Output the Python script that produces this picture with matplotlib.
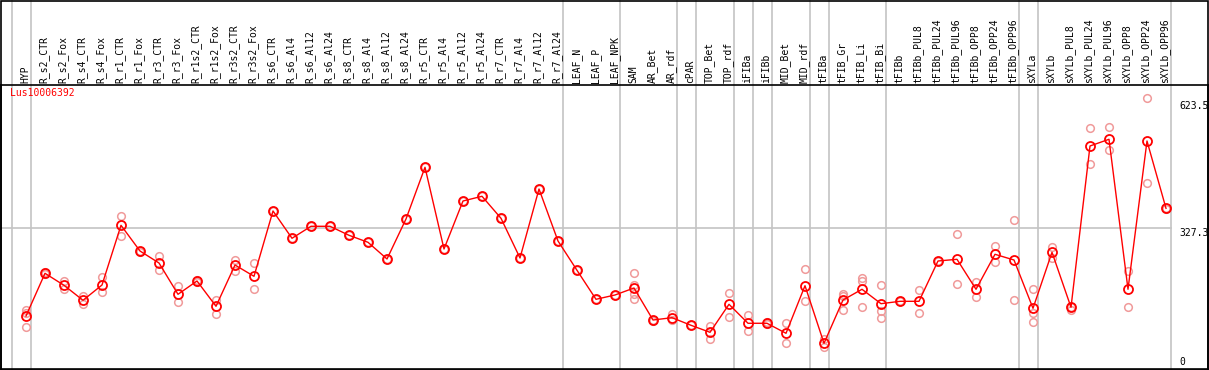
import matplotlib
matplotlib.use('Agg')
import matplotlib.pyplot as plt
from matplotlib.patches import Rectangle

gene = 'Lus10006392'

labels = ['HYP', 'R_s2_CTR', 'R_s2_Fox', 'R_s4_CTR', 'R_s4_Fox', 'R_r1_CTR', 'R_r1_Fox',
          'R_r3_CTR', 'R_r3_Fox', 'R_r1s2_CTR', 'R_r1s2_Fox', 'R_r3s2_CTR', 'R_r3s2_Fox',
          'R_s6_CTR', 'R_s6_Al4', 'R_s6_Al12', 'R_s6_Al24', 'R_s8_CTR', 'R_s8_Al4',
          'R_s8_Al12', 'R_s8_Al24', 'R_r5_CTR', 'R_r5_Al4', 'R_r5_Al12', 'R_r5_Al24',
          'R_r7_CTR', 'R_r7_Al4', 'R_r7_Al12', 'R_r7_Al24', 'LEAF_N', 'LEAF_P', 'LEAF_NPK',
          'SAM', 'AR_Bet', 'AR_rdf', 'cPAR', 'TOP_Bet', 'TOP_rdf', 'iFIBa', 'iFIBb',
          'MID_Bet', 'MID_rdf', 'tFIBa', 'tFIB_Gr', 'tFIB_Li', 'tFIB_Bi', 'tFIBb',
          'tFIBb_PUL8', 'tFIBb_PUL24', 'tFIBb_PUL96', 'tFIBb_OPP8', 'tFIBb_OPP24',
          'tFIBb_OPP96', 'sXYLa', 'sXYLb', 'sXYLb_PUL8', 'sXYLb_PUL24', 'sXYLb_PUL96',
          'sXYLb_OPP8', 'sXYLb_OPP24', 'sXYLb_OPP96']

means = [112.0, 216.0, 186.8, 150.3, 187.5, 332.9, 270.3, 241.1, 164.9, 197.3,
         135.7, 236.2, 208.7, 367.8, 301.3, 330.5, 330.5, 308.6, 291.5, 250.9,
         348.3, 474.2, 275.2, 392.1, 403.6, 350.0, 253.3, 421.3, 294.7, 223.3,
         152.7, 163.2, 180.2, 102.3, 107.9, 89.4, 72.3, 140.5, 94.3, 94.3,
         69.9, 185.8, 45.5, 151.0, 177.1, 142.0, 147.8, 147.8, 246.0, 250.1,
         177.1, 262.3, 248.4, 130.8, 267.2, 133.2, 526.1, 542.4, 177.1, 538.2,
         374.3]

reps = [[126.6, 119.3, 85.2], [214.0, 218.0], [198.0, 177.1], [160.7, 141.3],
        [207.0, 169.8], [354.9, 307.6], [269.0, 271.5], [258.2, 223.3],
        [184.4, 145.4], [196.0, 198.5], [151.7, 117.6], [248.4, 221.6],
        [241.1, 177.1], [367.8], [301.3], [330.5], [330.5], [308.6], [291.5],
        [250.9], [348.3], [474.2], [275.2], [392.1], [403.6], [350.0], [253.3],
        [421.3], [294.7], [223.3], [152.7], [163.2],
        [216.8, 187.5, 165.6, 154.2], [102.3, 101.0], [116.2, 102.3], [89.4],
        [87.7, 56.7], [167.3, 110.3], [115.2, 74.8], [96.7, 92.5], [94.3, 45.5],
        [225.8, 149.3], [55.3, 37.3], [166.3, 160.7, 126.6],
        [205.3, 198.0, 133.2], [187.5, 124.2, 107.9], [147.8, 148.5],
        [174.6, 120.1], [245.0, 247.0], [311.0, 190.0], [194.8, 157.6],
        [282.5, 242.8], [345.8, 151.0], [177.1, 120.1, 96.7], [280.8, 254.0],
        [126.6, 133.0], [569.2, 482.2], [571.6, 515.6], [220.9, 133.2],
        [642.2, 435.2], [374.3, 373.0]]

# last index of each sample group (a grey line follows it)
group_ends = [0, 28, 31, 34, 35, 37, 38, 39, 41, 42, 45, 52, 53, 60]
y_ticks = [623.5, 327.3, 0]

W, H = 1209, 370
fig = plt.figure(figsize=(W / 100, H / 100), dpi=100)

# plot region in pixels: x 1..1208, y 85..369
ax = fig.add_axes([1 / W, (H - 369) / H, 1207 / W, 284 / H])
x_left = (1 - 26) / 19
x_right = (1208 - 26) / 19
ax.set_xlim(x_left, x_right)
ax.set_ylim(-17.05, 674.6)
ax.set_xticks([])
ax.set_yticks([])
for s in ax.spines.values():
    s.set_color('black')
    s.set_linewidth(1.2)

grey = '#c4c4c4'
top = 1 + 85 / 284
trans = ax.get_xaxis_transform()
ax.plot([-0.75, -0.75], [0, top], color=grey, lw=1.2, transform=trans, clip_on=False, zorder=1)
for g in group_ends:
    ax.plot([g + 0.25, g + 0.25], [0, top], color=grey, lw=1.2, transform=trans,
            clip_on=False, zorder=1)
ax.plot([x_left, group_ends[-1] + 0.25], [y_ticks[1], y_ticks[1]], color=grey, lw=1.2, zorder=1)

for i, r in enumerate(reps):
    ax.plot([i] * len(r), r, 'o', ms=5.5, mfc='none', mec='#f09a9a', mew=1.1, zorder=2)

x = list(range(len(means)))
ax.plot(x, means, '-', color='red', lw=1, zorder=3)
ax.plot(x, means, 'o', ms=6.5, mfc='none', mec='red', mew=1.3, zorder=4)

mono = 'DejaVu Sans Mono'
for i, lab in enumerate(labels):
    ax.text(i - 0.05, 1 + 2 / 284, lab, transform=trans, rotation=90, ha='center',
            va='bottom', fontsize=7, family=mono, clip_on=False)

ax.text(x_left + 9 / 19, 656, gene, color='red', fontsize=7, family=mono, va='center')

tx = (1179 - 26) / 19
ax.text(tx, y_ticks[0], '623.5', fontsize=7, family=mono, va='center', clip_on=False)
ax.text(tx, y_ticks[1], '327.3', fontsize=7, family=mono, va='top', clip_on=False)
ax.text(tx, y_ticks[2], '0', fontsize=7, family=mono, va='center', clip_on=False)

fig.patches.append(Rectangle((0.5 / W, 0.5 / H), (W - 1.5) / W, (H - 1.5) / H,
                             transform=fig.transFigure, fill=False, ec='black', lw=1.2))

fig.savefig('out.png', dpi=100, facecolor='white')
